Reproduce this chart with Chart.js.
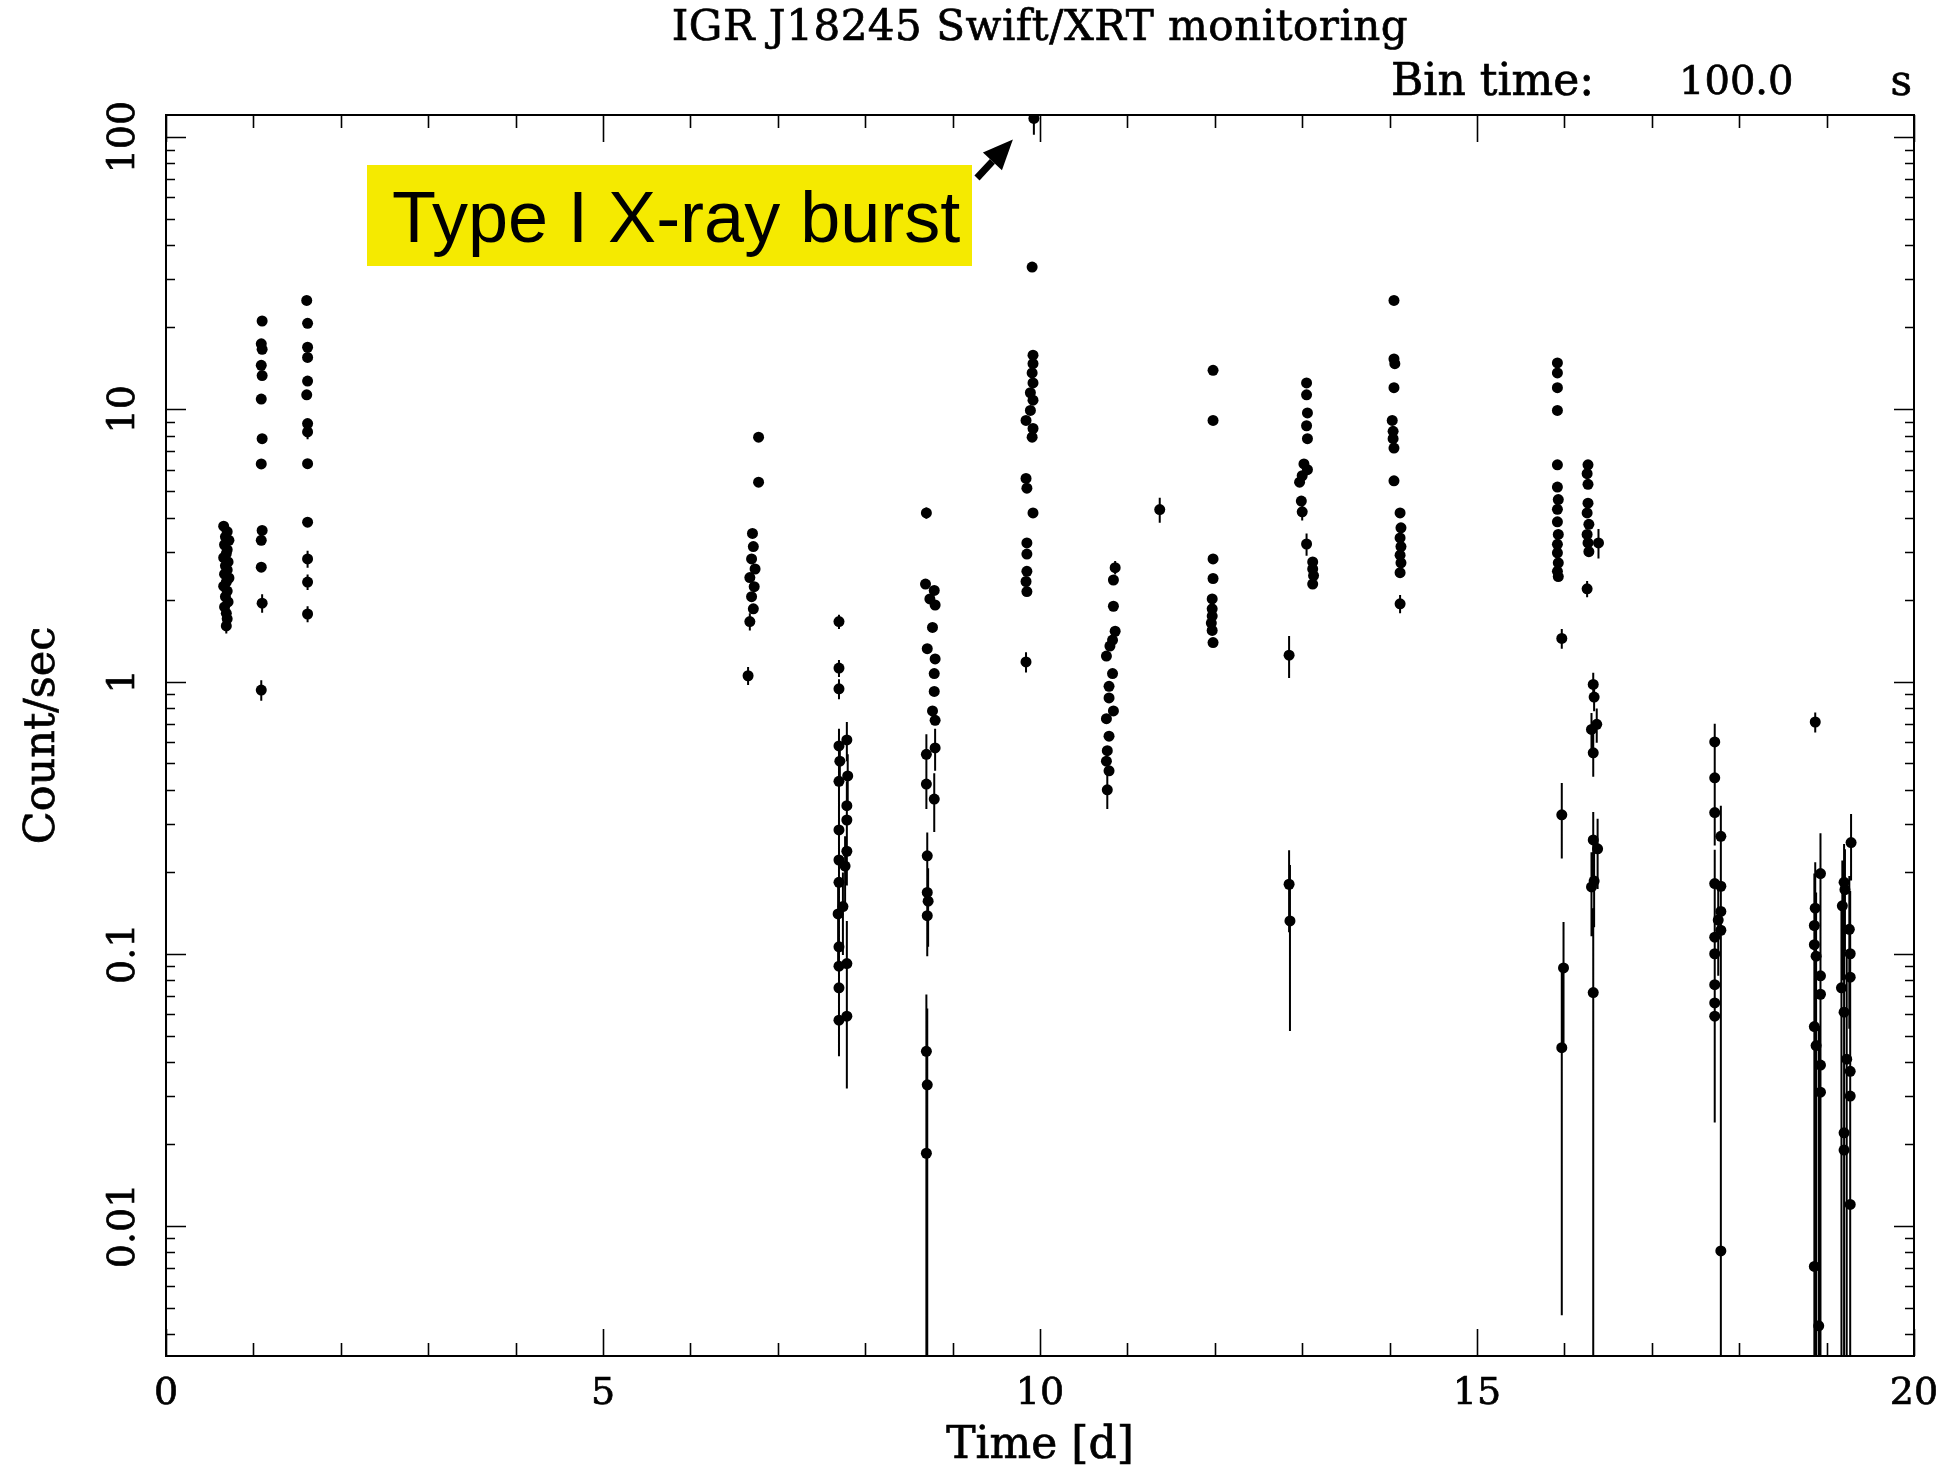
<!DOCTYPE html>
<html>
<head>
<meta charset="utf-8">
<title>IGR J18245 Swift/XRT monitoring</title>
<script src="https://cdn.jsdelivr.net/npm/chart.js@4.4.1/dist/chart.umd.min.js"></script>
<style>
  html, body { margin: 0; padding: 0; background: #fff; }
  #wrap { width: 1947px; height: 1471px; }
</style>
</head>
<body>
<div id="wrap"><canvas id="lc" width="1947" height="1471"></canvas></div>
<script>
// Swift/XRT light curve of IGR J18245, 100 s bins.
// Each row: [time (d), count rate (counts/s), optional 1-sigma error].
const obs01 = [[0.66, 3.72], [0.70, 3.55], [0.68, 3.40], [0.72, 3.30], [0.67, 3.18], [0.70, 3.05],
  [0.69, 2.95], [0.66, 2.85], [0.71, 2.75], [0.68, 2.66], [0.70, 2.57], [0.67, 2.48], [0.72, 2.40],
  [0.69, 2.32], [0.66, 2.24], [0.70, 2.15], [0.68, 2.05], [0.71, 1.96], [0.67, 1.88], [0.69, 1.78],
  [0.70, 1.70], [0.69, 1.60, 0.10]];
const obs02 = [[1.10, 21.1], [1.09, 17.4], [1.10, 16.6], [1.09, 14.5], [1.10, 13.3], [1.09, 10.9],
  [1.10, 7.8], [1.09, 6.3], [1.10, 3.59], [1.09, 3.30], [1.09, 2.63], [1.10, 1.94, 0.15], [1.09, 0.93, 0.08]];
const obs03 = [[1.61, 25.1], [1.62, 20.7], [1.62, 16.9], [1.62, 15.5], [1.62, 12.7], [1.61, 11.3],
  [1.62, 8.86], [1.62, 8.26, 0.5], [1.62, 6.31], [1.62, 3.85], [1.62, 2.82, 0.2], [1.62, 2.32, 0.15], [1.62, 1.77, 0.12]];
const obs04 = [[6.78, 7.9], [6.78, 5.4], [6.71, 3.5], [6.72, 3.13], [6.70, 2.82], [6.74, 2.59],
  [6.68, 2.41], [6.73, 2.23], [6.70, 2.05], [6.72, 1.85], [6.68, 1.66, 0.12], [6.66, 1.05, 0.08]];
const obs05 = [[7.70, 1.66, 0.10], [7.70, 1.12, 0.08], [7.70, 0.94, 0.08], [7.79, 0.61, 0.10], [7.70, 0.58, 0.09],
  [7.71, 0.51, 0.08], [7.80, 0.45, 0.09], [7.70, 0.43, 0.08], [7.79, 0.35, 0.08], [7.79, 0.31, 0.07],
  [7.70, 0.285, 0.07], [7.79, 0.238, 0.06], [7.70, 0.221, 0.06], [7.77, 0.21, 0.06], [7.70, 0.183, 0.05],
  [7.745, 0.149, 0.05], [7.69, 0.14, 0.05], [7.70, 0.106, 0.04], [7.79, 0.092, 0.04], [7.70, 0.09, 0.035],
  [7.70, 0.075, 0.03], [7.79, 0.059, 0.027], [7.70, 0.057, 0.015]];
const obs06 = [[8.70, 4.16, 0.2], [8.69, 2.28], [8.79, 2.16], [8.74, 2.01], [8.80, 1.91], [8.77, 1.58],
  [8.71, 1.32], [8.80, 1.21], [8.79, 1.07], [8.79, 0.92], [8.77, 0.78], [8.80, 0.72], [8.80, 0.57, 0.1],
  [8.70, 0.54, 0.1], [8.70, 0.42, 0.08], [8.79, 0.37, 0.09], [8.71, 0.229, 0.05], [8.71, 0.168, 0.05],
  [8.72, 0.156, 0.05], [8.71, 0.138, 0.04], [8.70, 0.0438, 0.027], [8.71, 0.033, 0.03], [8.70, 0.0185, 0.02]];
const obs07 = [[9.93, 117, 15], [9.91, 33.3], [9.92, 15.8], [9.92, 14.7], [9.91, 13.6], [9.92, 12.5],
  [9.89, 11.5], [9.92, 10.8], [9.89, 9.9], [9.84, 9.1], [9.92, 8.5], [9.91, 7.9], [9.84, 5.57],
  [9.85, 5.13], [9.92, 4.16], [9.85, 3.23], [9.85, 2.94], [9.85, 2.54], [9.84, 2.33], [9.85, 2.14],
  [9.84, 1.18, 0.1]];
const obs08 = [[10.86, 2.62, 0.15], [10.84, 2.36], [10.84, 1.89], [10.86, 1.53], [10.83, 1.42], [10.80, 1.35],
  [10.76, 1.24], [10.83, 1.07], [10.79, 0.96], [10.79, 0.87], [10.84, 0.78], [10.76, 0.73], [10.79, 0.63],
  [10.77, 0.557], [10.76, 0.51], [10.79, 0.47], [10.77, 0.40, 0.06]];
const obs09 = [[11.37, 4.28, 0.45]];
const obs10 = [[11.98, 13.9], [11.98, 9.1], [11.98, 2.82], [11.98, 2.39], [11.97, 2.01], [11.97, 1.85],
  [11.97, 1.74], [11.96, 1.64], [11.97, 1.54], [11.98, 1.39]];
const obs11 = [[12.85, 1.25, 0.22], [12.85, 0.18, 0.06], [12.86, 0.132, 0.08], [13.05, 12.5], [13.05, 11.3],
  [13.06, 9.7], [13.05, 8.7], [13.06, 7.8], [13.02, 6.3], [13.06, 6.0], [13.00, 5.7], [12.97, 5.4],
  [12.99, 4.6], [13.00, 4.2, 0.3], [13.05, 3.2, 0.3], [13.12, 2.75], [13.12, 2.59], [13.13, 2.45], [13.12, 2.28]];
const obs12 = [[14.05, 25.1], [14.05, 15.3], [14.06, 14.7], [14.05, 12.0], [14.03, 9.1], [14.04, 8.3],
  [14.04, 7.8], [14.05, 7.2], [14.05, 5.46], [14.12, 4.16], [14.13, 3.67], [14.12, 3.37], [14.13, 3.13],
  [14.12, 2.91], [14.13, 2.73], [14.12, 2.51], [14.12, 1.93, 0.15]];
const obs13 = [[15.92, 14.8], [15.92, 13.6], [15.92, 12.0], [15.92, 9.9], [15.92, 6.25], [15.92, 5.18],
  [15.93, 4.66], [15.92, 4.29], [15.92, 3.86], [15.93, 3.47], [15.92, 3.19], [15.92, 2.97], [15.93, 2.73],
  [15.92, 2.54], [15.93, 2.43], [15.97, 1.44, 0.12], [15.97, 0.324, 0.10], [15.99, 0.0887, 0.042],
  [15.97, 0.0452, 0.0405]];
const obs14 = [[16.27, 6.25], [16.26, 5.8], [16.27, 5.3], [16.27, 4.52], [16.26, 4.16], [16.28, 3.78],
  [16.26, 3.47], [16.27, 3.23], [16.28, 3.0], [16.39, 3.23, 0.4], [16.26, 2.19, 0.15],
  [16.33, 0.976, 0.10], [16.34, 0.877, 0.10], [16.37, 0.696, 0.10], [16.31, 0.667, 0.10], [16.33, 0.547, 0.10],
  [16.33, 0.262, 0.07], [16.38, 0.243, 0.07], [16.34, 0.185, 0.06], [16.31, 0.176, 0.06], [16.33, 0.072, 0.075]];
const obs15 = [[17.72, 0.60, 0.10], [17.72, 0.443, 0.09], [17.72, 0.33, 0.08], [17.79, 0.27, 0.08],
  [17.72, 0.181, 0.06], [17.79, 0.177, 0.06], [17.79, 0.143, 0.06], [17.76, 0.133, 0.05], [17.79, 0.122, 0.05],
  [17.72, 0.115, 0.05], [17.72, 0.100, 0.05], [17.72, 0.077, 0.04], [17.72, 0.066, 0.04], [17.72, 0.059, 0.035],
  [17.79, 0.0081, 0.09]];
const obs16 = [[18.87, 0.71, 0.06], [18.93, 0.197, 0.08], [18.87, 0.147, 0.07], [18.86, 0.127, 0.07],
  [18.86, 0.108, 0.07], [18.88, 0.098, 0.07], [18.93, 0.083, 0.08], [18.93, 0.071, 0.08], [18.86, 0.054, 0.06],
  [18.88, 0.046, 0.06], [18.93, 0.039, 0.06], [18.93, 0.031, 0.06], [18.86, 0.0071, 0.06], [18.91, 0.0043, 0.05]];
const obs17 = [[19.28, 0.256, 0.07], [19.20, 0.183, 0.07], [19.21, 0.172, 0.07], [19.18, 0.150, 0.07],
  [19.26, 0.123, 0.07], [19.27, 0.100, 0.07], [19.27, 0.082, 0.08], [19.17, 0.075, 0.08], [19.20, 0.061, 0.07],
  [19.23, 0.041, 0.06], [19.27, 0.037, 0.06], [19.27, 0.030, 0.06], [19.20, 0.022, 0.06], [19.20, 0.019, 0.06],
  [19.27, 0.012, 0.05]];

const observations = [obs01, obs02, obs03, obs04, obs05, obs06, obs07, obs08, obs09,
  obs10, obs11, obs12, obs13, obs14, obs15, obs16, obs17];

// Axis ranges and labelled ticks
const timeRange = [0, 20];
const rateRange = [0.00333, 120.5];
const timeTicks = [0, 5, 10, 15, 20];
const timeTickLabels = ['0', '5', '10', '15', '20'];
const rateTicks = [0.01, 0.1, 1, 10, 100];
const rateTickLabels = ['0.01', '0.1', '1', '10', '100'];

const plotTitle = 'IGR J18245 Swift/XRT monitoring';
const binLabel = ['Bin time:', '100.0', 's'];
const xTitle = 'Time [d]';
const yTitle = 'Count/sec';
const burstLabel = 'Type I X-ray burst';

const points = [];
observations.forEach(obs => obs.forEach(r => points.push({ x: r[0], y: r[1], e: r.length > 2 ? r[2] : 0 })));

const SERIF = '"DejaVu Serif", "Liberation Serif", serif';

// Frame with inward ticks on all four sides, tick labels and axis titles
const framePlugin = {
  id: 'pgFrame',
  beforeDatasetsDraw(chart) {
    const { ctx, chartArea: a, scales: { x, y } } = chart;
    ctx.save();
    ctx.strokeStyle = '#000';
    ctx.fillStyle = '#000';
    ctx.lineWidth = 2;
    ctx.strokeRect(a.left, a.top, a.right - a.left, a.bottom - a.top);

    ctx.lineWidth = 1.6;
    ctx.beginPath();
    for (let v = timeRange[0]; v <= timeRange[1]; v += 1) {
      const px = Math.round(x.getPixelForValue(v)) + 0.5;
      const len = timeTicks.includes(v) ? 27 : 13;
      ctx.moveTo(px, a.bottom); ctx.lineTo(px, a.bottom - len);
      ctx.moveTo(px, a.top); ctx.lineTo(px, a.top + len);
    }
    for (let k = -3; k <= 2; k++) {
      for (let m = 1; m <= 9; m++) {
        const v = m * Math.pow(10, k);
        if (v < rateRange[0] || v > rateRange[1]) continue;
        const py = Math.round(y.getPixelForValue(v)) + 0.5;
        const len = m === 1 ? 20 : 9;
        ctx.moveTo(a.left, py); ctx.lineTo(a.left + len, py);
        ctx.moveTo(a.right, py); ctx.lineTo(a.right - len, py);
      }
    }
    ctx.stroke();

    // Slightly heavier glyphs, like a stroked plotting font
    const label = (text, px, py) => { ctx.fillText(text, px, py); ctx.strokeText(text, px, py); };
    ctx.lineWidth = 0.7;
    ctx.font = '38px ' + SERIF;
    ctx.textAlign = 'center';
    ctx.textBaseline = 'middle';
    timeTicks.forEach((v, i) => label(timeTickLabels[i], x.getPixelForValue(v), a.bottom + 38));
    rateTicks.forEach((v, i) => {
      ctx.save();
      ctx.translate(a.left - 42, y.getPixelForValue(v));
      ctx.rotate(-Math.PI / 2);
      label(rateTickLabels[i], 0, 0);
      ctx.restore();
    });

    const cx = (a.left + a.right) / 2;
    const cy = (a.top + a.bottom) / 2;
    ctx.font = '44px ' + SERIF;
    label(xTitle, cx, a.bottom + 91);
    ctx.font = '43px ' + SERIF;
    ctx.save();
    ctx.translate(a.left - 123, cy);
    ctx.rotate(-Math.PI / 2);
    label(yTitle, 0, 0);
    ctx.restore();

    ctx.font = '42px ' + SERIF;
    ctx.letterSpacing = '0.5px';
    label(plotTitle, cx, 29);
    ctx.letterSpacing = '0px';

    ctx.textAlign = 'left';
    ctx.font = '44px ' + SERIF;
    label(binLabel[0], 1391, 84);
    ctx.font = '40px ' + SERIF;
    label(binLabel[1], 1679, 84);
    ctx.textAlign = 'right';
    ctx.font = '42px ' + SERIF;
    label(binLabel[2], a.right - 2, 84);
    ctx.restore();
  }
};

// Vertical 1-sigma error bars, clipped to the plot frame
const errorBarPlugin = {
  id: 'errorBars',
  beforeDatasetsDraw(chart) {
    const { ctx, chartArea: a, scales: { x, y } } = chart;
    ctx.save();
    ctx.beginPath();
    ctx.rect(a.left, a.top, a.right - a.left, a.bottom - a.top);
    ctx.clip();
    ctx.strokeStyle = '#000';
    ctx.lineWidth = 2;
    ctx.beginPath();
    chart.data.datasets[0].data.forEach(p => {
      if (!p.e) return;
      const px = x.getPixelForValue(p.x);
      const top = y.getPixelForValue(p.y + p.e);
      const low = p.y - p.e;
      const bottom = low > 0 ? y.getPixelForValue(low) : a.bottom;
      ctx.moveTo(px, Math.max(top, a.top));
      ctx.lineTo(px, Math.min(bottom, a.bottom));
    });
    ctx.stroke();
    ctx.restore();
  }
};

// Yellow label with an arrow pointing at the brightest bin
const burstPlugin = {
  id: 'burstNote',
  afterDatasetsDraw(chart) {
    const { ctx, scales: { x, y } } = chart;
    const peak = points.reduce((m, p) => (p.y > m.y ? p : m), points[0]);
    const px = x.getPixelForValue(peak.x);
    const py = y.getPixelForValue(peak.y);
    ctx.save();
    ctx.fillStyle = '#f5ea00';
    ctx.fillRect(367, 165, 605, 101);
    ctx.fillStyle = '#000';
    ctx.font = '72px "Liberation Sans", Arial, sans-serif';
    ctx.textAlign = 'left';
    ctx.textBaseline = 'alphabetic';
    ctx.fillText(burstLabel, 392, 242);

    const tipX = px - 21, tipY = py + 21;
    const tailX = 977, tailY = 178;
    const ang = Math.atan2(tipY - tailY, tipX - tailX);
    const headLen = 30, headHalf = 13;
    const bx = tipX - headLen * Math.cos(ang), by = tipY - headLen * Math.sin(ang);
    ctx.strokeStyle = '#000';
    ctx.lineWidth = 7;
    ctx.beginPath();
    ctx.moveTo(tailX, tailY);
    ctx.lineTo(bx, by);
    ctx.stroke();
    ctx.beginPath();
    ctx.moveTo(tipX, tipY);
    ctx.lineTo(bx + headHalf * Math.sin(ang), by - headHalf * Math.cos(ang));
    ctx.lineTo(bx - headHalf * Math.sin(ang), by + headHalf * Math.cos(ang));
    ctx.closePath();
    ctx.fill();
    ctx.restore();
  }
};

new Chart(document.getElementById('lc'), {
  type: 'scatter',
  data: {
    datasets: [{
      data: points,
      backgroundColor: '#000',
      borderColor: '#000',
      borderWidth: 0,
      pointRadius: 5.5,
      pointHoverRadius: 5.5
    }]
  },
  options: {
    responsive: false,
    animation: false,
    events: [],
    layout: { padding: { left: 166, right: 33, top: 115, bottom: 115 } },
    scales: {
      x: { type: 'linear', min: timeRange[0], max: timeRange[1], display: false },
      y: { type: 'logarithmic', min: rateRange[0], max: rateRange[1], display: false }
    },
    plugins: { legend: { display: false }, tooltip: { enabled: false }, title: { display: false } }
  },
  plugins: [framePlugin, errorBarPlugin, burstPlugin]
});
</script>
</body>
</html>
